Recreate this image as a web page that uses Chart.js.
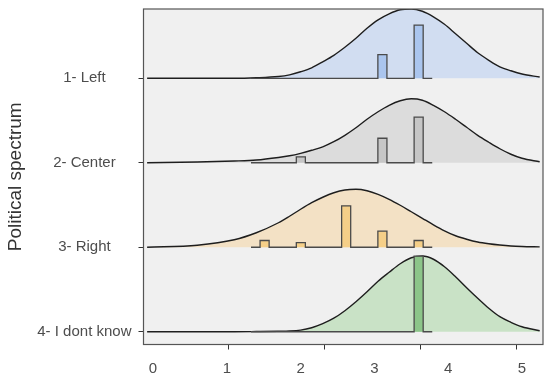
<!DOCTYPE html>
<html>
<head>
<meta charset="utf-8">
<script src="https://cdn.jsdelivr.net/npm/chart.js@4.4.1/dist/chart.umd.min.js"></script>
<style>
  html, body { margin: 0; padding: 0; background: #fff; }
</style>
</head>
<body>
<canvas id="ridges" width="550" height="383"></canvas>
<script>
// categories, top ridge first; ridgeRows = baseline of each ridge on the y scale
const categories = ['1- Left', '2- Center', '3- Right', '4- I dont know'];
const ridgeRows = [4, 3, 2, 1];

// density curves (height above each baseline)
const densityX = [-0.08, 0.6, 1.1, 1.4, 1.7, 1.85, 2.0, 2.15, 2.3, 2.45, 2.6, 2.75, 2.9, 3.05,
                  3.2, 3.35, 3.5, 3.65, 3.8, 3.95, 4.1, 4.25, 4.4, 4.55, 4.7, 4.85, 5.0, 5.24];
const densityLeft = [0, 0, 0, 0.006, 0.021, 0.041, 0.077, 0.124, 0.195, 0.272, 0.367, 0.473, 0.592, 0.692,
                     0.763, 0.811, 0.820, 0.793, 0.728, 0.639, 0.527, 0.414, 0.302, 0.213, 0.136, 0.089, 0.051, 0.015];
const densityCenter = [0, 0.009, 0.021, 0.033, 0.063, 0.083, 0.112, 0.148, 0.189, 0.249, 0.325, 0.414, 0.515, 0.604,
                       0.680, 0.734, 0.757, 0.740, 0.680, 0.604, 0.515, 0.420, 0.325, 0.243, 0.166, 0.101, 0.053, 0.012];
const densityRight = [0, 0.024, 0.089, 0.172, 0.290, 0.367, 0.450, 0.527, 0.592, 0.645, 0.678, 0.686, 0.669, 0.627,
                      0.568, 0.497, 0.420, 0.343, 0.266, 0.195, 0.136, 0.095, 0.062, 0.041, 0.026, 0.015, 0.009, 0.004];
const densityDontKnow = [0, 0, 0, 0.002, 0.005, 0.008, 0.019, 0.047, 0.095, 0.160, 0.249, 0.355, 0.473, 0.598,
                         0.704, 0.805, 0.876, 0.896, 0.858, 0.769, 0.651, 0.521, 0.396, 0.278, 0.178, 0.112, 0.059, 0.012];

// histograms: 20 bins from histStart
const histStart = 1.328;
const histBinWidth = 0.1228;
const histLeft = [0, 0, 0, 0, 0, 0, 0, 0, 0, 0, 0, 0, 0, 0, 0.28, 0, 0, 0, 0.63, 0];
const histCenter = [0, 0, 0, 0, 0, 0.07, 0, 0, 0, 0, 0, 0, 0, 0, 0.29, 0, 0, 0, 0.54, 0];
const histRight = [0, 0.08, 0, 0, 0, 0.055, 0, 0, 0, 0, 0.49, 0, 0, 0, 0.19, 0, 0, 0, 0.08, 0];
const histDontKnow = [0, 0, 0, 0, 0, 0, 0, 0, 0, 0, 0, 0, 0, 0, 0, 0, 0, 0, 0.895, 0];

// x axis: labels and (offset) tick marks
const xTicks = [0, 1, 2, 3, 4, 5];
const xTickMarks = [1.02, 2.32, 3.62, 4.93];

const ridgeFill = ['#d1ddf1', '#dcdcdc', '#f3e1c5', '#c9e2c6'];
const ridgeBar = ['#aac5ee', '#c6c6c6', '#f5cf88', '#8cc589'];

const densities = [densityLeft, densityCenter, densityRight, densityDontKnow];
const hists = [histLeft, histCenter, histRight, histDontKnow];

const datasets = [];
categories.forEach((name, i) => {
    const base = ridgeRows[i];
    datasets.push({
        label: name,
        data: densityX.map((x, k) => ({ x: x, y: base + densities[i][k] })),
        borderColor: '#1e1e1e',
        borderWidth: 1.4,
        backgroundColor: ridgeFill[i],
        fill: { value: base },
        pointRadius: 0,
        cubicInterpolationMode: 'monotone',
        order: 10 - i
    });

    const steps = hists[i].map((h, k) => ({ x: histStart + k * histBinWidth, y: base + h }));
    steps.push({ x: histStart + hists[i].length * histBinWidth, y: base });
    datasets.push({
        label: name + ' hist',
        data: steps,
        stepped: true,
        borderColor: '#4a4a4a',
        borderWidth: 1.3,
        backgroundColor: ridgeBar[i],
        fill: { value: base },
        pointRadius: 0,
        order: 5 - i
    });
});

// grey panel with dark frame
const panel = {
    id: 'panel',
    beforeDraw(chart) {
        const { ctx, chartArea: a } = chart;
        ctx.save();
        ctx.fillStyle = '#f0f0f0';
        ctx.fillRect(a.left, a.top, a.right - a.left, a.bottom - a.top);
        ctx.restore();
    },
    afterDraw(chart) {
        const { ctx, chartArea: a } = chart;
        ctx.save();
        ctx.strokeStyle = '#555';
        ctx.lineWidth = 1.2;
        ctx.strokeRect(a.left, a.top, a.right - a.left, a.bottom - a.top);
        ctx.restore();
    }
};

Chart.defaults.font.family = "'Liberation Sans', Arial, sans-serif";

new Chart(document.getElementById('ridges'), {
    type: 'line',
    data: { datasets },
    plugins: [panel],
    options: {
        responsive: false,
        animation: false,
        layout: { padding: { top: 9, right: 7, bottom: 5.5, left: 0 } },
        plugins: {
            legend: { display: false },
            tooltip: { enabled: false }
        },
        scales: {
            x: {
                type: 'linear',
                position: 'bottom',
                min: -0.129,
                max: 5.285,
                weight: 1,
                afterBuildTicks: s => { s.ticks = xTicks.map(v => ({ value: v })); },
                afterFit: s => { s.height = 28; },
                grid: { display: false, drawTicks: false },
                border: { display: false },
                ticks: { padding: 10, color: '#4d4d4d', font: { size: 15 } }
            },
            x2: {
                type: 'linear',
                position: 'bottom',
                min: -0.129,
                max: 5.285,
                weight: 0,
                afterBuildTicks: s => { s.ticks = xTickMarks.map(v => ({ value: v })); },
                grid: { drawOnChartArea: false, drawTicks: true, tickLength: 5, color: '#333' },
                border: { display: false },
                ticks: { display: false }
            },
            y: {
                type: 'linear',
                min: 0.849,
                max: 4.82,
                afterBuildTicks: s => { s.ticks = ridgeRows.map(v => ({ value: v })); },
                afterFit: s => { s.width = 143.5; s.paddingTop = 0; s.paddingBottom = 0; },
                grid: { drawOnChartArea: false, drawTicks: true, tickLength: 5, color: '#333' },
                border: { display: false },
                ticks: {
                    crossAlign: 'center',
                    padding: 7,
                    color: '#4d4d4d',
                    font: { size: 15 },
                    callback: v => categories[ridgeRows.indexOf(v)]
                },
                title: {
                    display: true,
                    text: 'Political spectrum',
                    color: '#333',
                    font: { size: 19 },
                    padding: { top: 4, bottom: 4 }
                }
            }
        }
    }
});
</script>
</body>
</html>
